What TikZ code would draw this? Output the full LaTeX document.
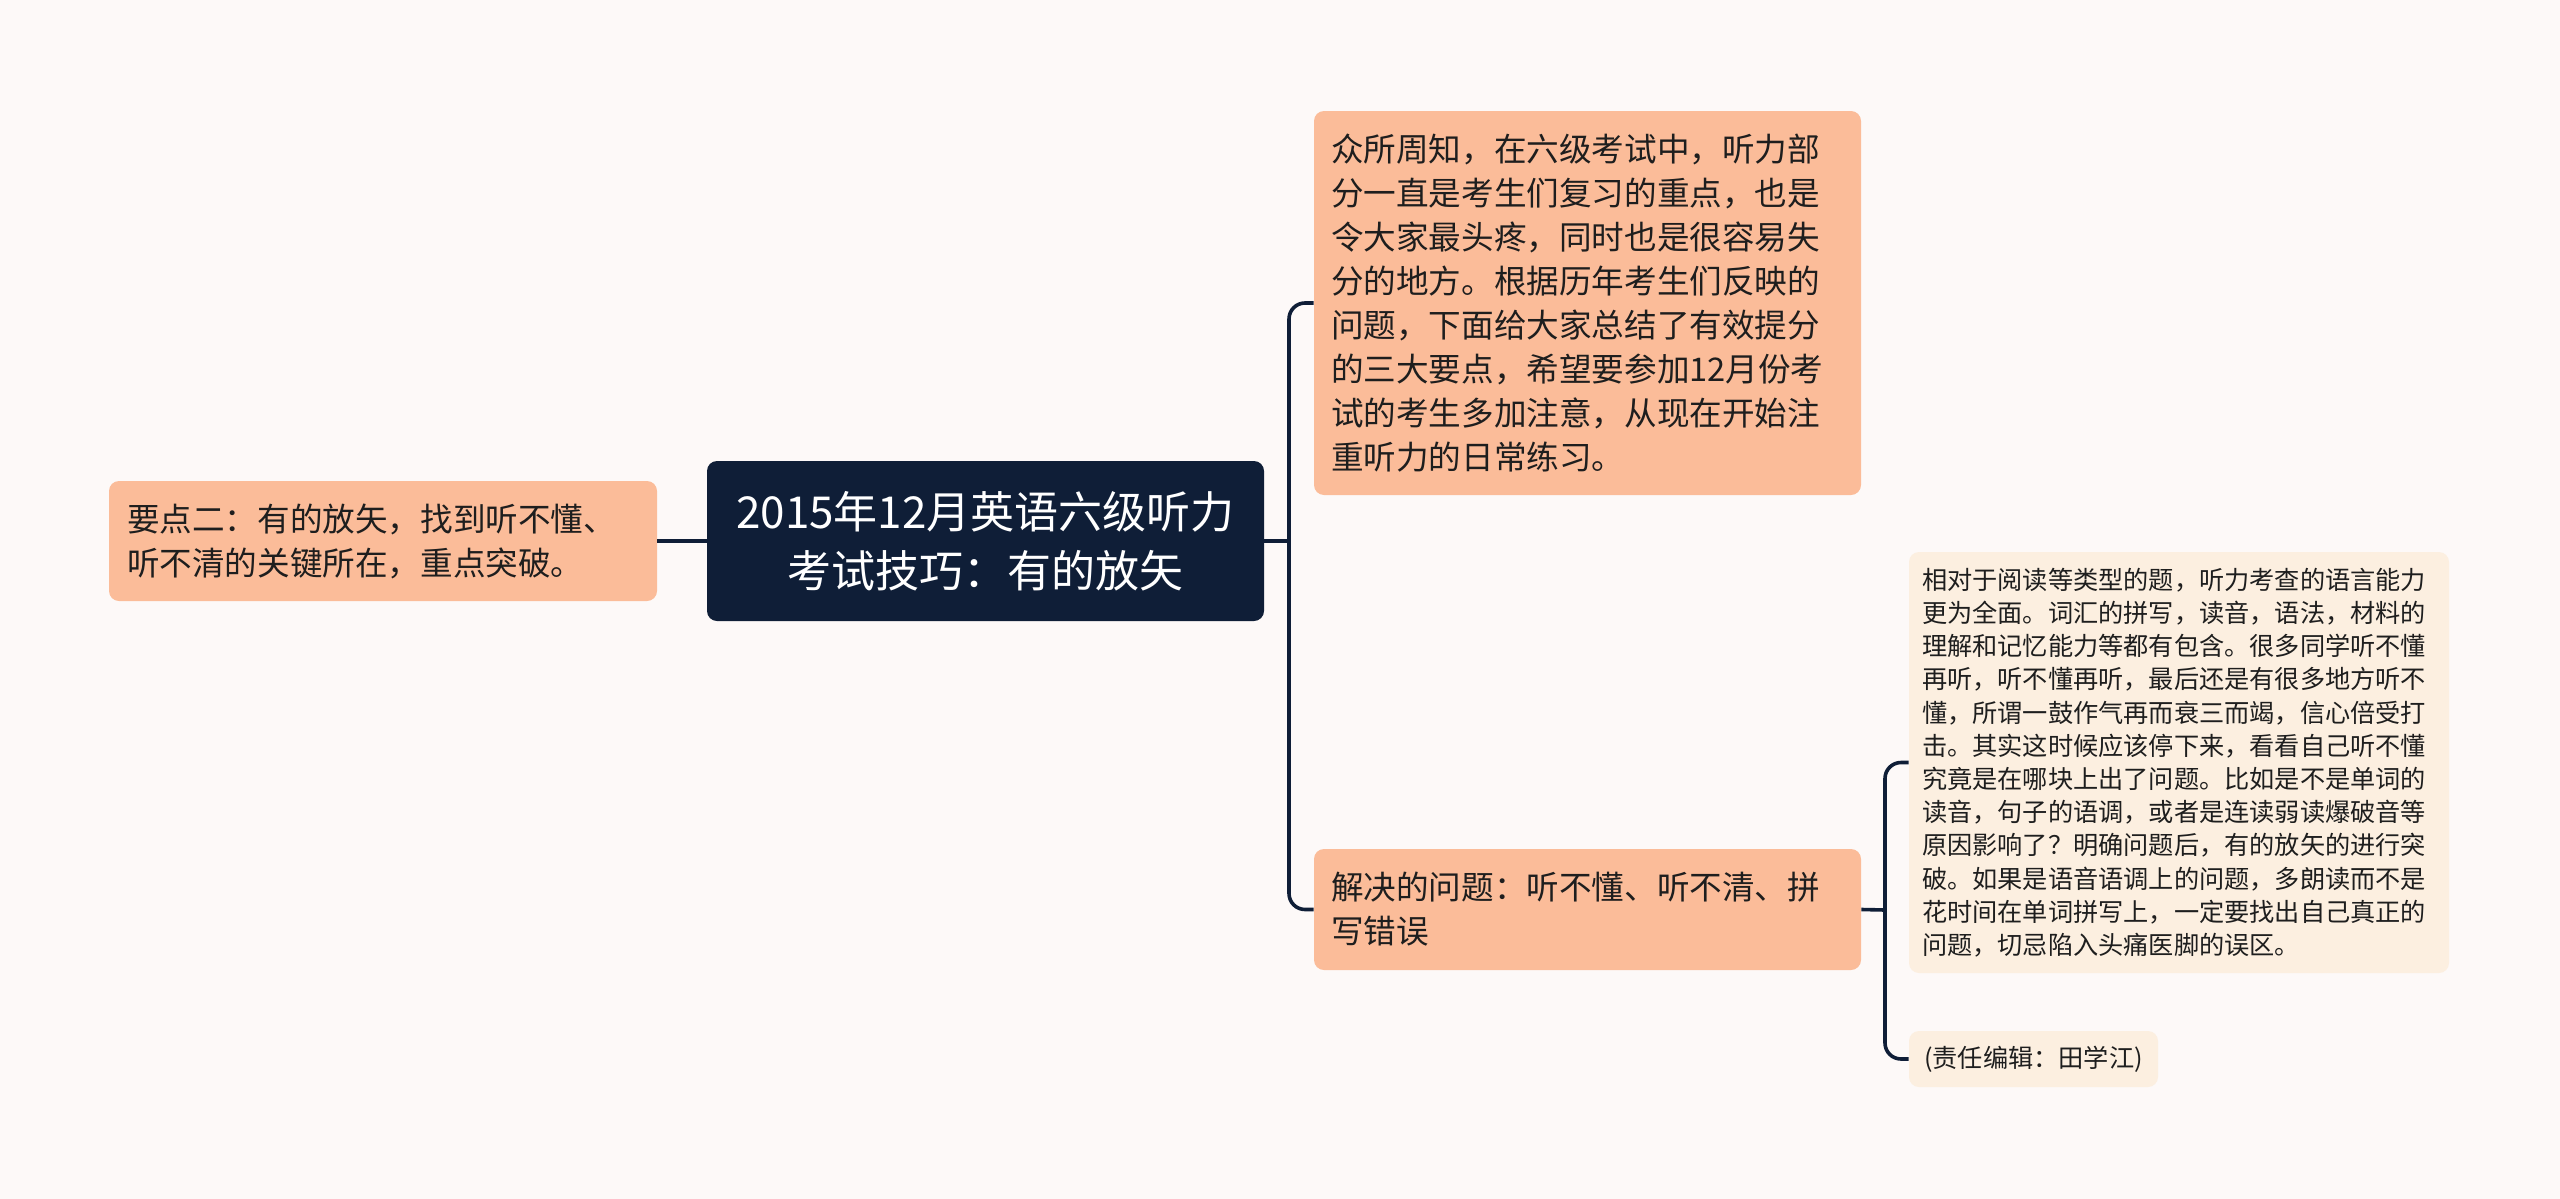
\documentclass[tikz,border=0pt]{standalone}
\usepackage{fontspec}
\setmainfont{Noto Sans CJK SC}
\usepackage{tikz}
\usetikzlibrary{positioning}
\definecolor{bgc}{HTML}{FDF9F8}
\definecolor{navy}{HTML}{0F1E37}
\definecolor{peach}{HTML}{FBBC99}
\definecolor{cream}{HTML}{FCEFE0}
\definecolor{txt}{HTML}{1E1E1E}

\begin{document}
\begin{tikzpicture}[x=1pt,y=1pt,
  box/.style={rounded corners=5pt,text=txt,inner ysep=2pt,anchor=center},
  big/.style={box,fill=peach,inner xsep=8.5pt,text width=256.5pt,align=left,
    font=\fontsize{16.3pt}{22pt}\selectfont},
  small/.style={box,fill=cream,font=\fontsize{12.6pt}{16.6pt}\selectfont},
  link/.style={draw=navy,line width=1.8pt,rounded corners=8pt}]
\fill[bgc] (0,0) rectangle (1280,-599.5);
\useasboundingbox (0,0) rectangle (1280,-599.5);

\node [box,fill=navy,text=white,minimum width=278.5pt,minimum height=80pt,align=center,
  font=\fontsize{22pt}{29.5pt}\selectfont] (root) at (492.75,-270.5)
  {2015年12月英语六级听力\\考试技巧：有的放矢};
\node [big,minimum height=60pt,text width=256pt,inner xsep=9pt] (p2) at (191.5,-270.5)
  {要点二：有的放矢，找到听不懂、\\听不清的关键所在，重点突破。};
\node [big,minimum height=192pt] (intro) at (793.75,-151.5)
  {众所周知，在六级考试中，听力部\\分一直是考生们复习的重点，也是\\令大家最头疼，同时也是很容易失\\分的地方。根据历年考生们反映的\\问题，下面给大家总结了有效提分\\的三大要点，希望要参加12月份考\\试的考生多加注意，从现在开始注\\重听力的日常练习。};
\node [big,minimum height=60.5pt] (solve) at (793.75,-454.75)
  {解决的问题：听不懂、听不清、拼\\写错误};
\node [small,inner xsep=6.5pt,text width=257pt,minimum height=210.5pt,align=left] (detail) at (1089.5,-381.25)
  {相对于阅读等类型的题，听力考查的语言能力\\更为全面。词汇的拼写，读音，语法，材料的\\理解和记忆能力等都有包含。很多同学听不懂\\再听，听不懂再听，最后还是有很多地方听不\\懂，所谓一鼓作气再而衰三而竭，信心倍受打\\击。其实这时候应该停下来，看看自己听不懂\\究竟是在哪块上出了问题。比如是不是单词的\\读音，句子的语调，或者是连读弱读爆破音等\\原因影响了？明确问题后，有的放矢的进行突\\破。如果是语音语调上的问题，多朗读而不是\\花时间在单词拼写上，一定要找出自己真正的\\问题，切忌陷入头痛医脚的误区。};
\node [small,minimum width=124.5pt,minimum height=28pt] (editor) at (1016.75,-529.5)
  {(责任编辑：田学江)};

\coordinate (j1) at (644.5,-270.5);
\coordinate (j2) at (942.5,-455);
\draw [link] (root.west) -- (p2.east);
\draw [link] (root.east) -- (j1);
\draw [link] (intro.west) -| (j1) |- (solve.west);
\draw [link] (solve.east) -- (j2);
\draw [link] (detail.west) -| (j2) |- (editor.west);
\end{tikzpicture}
\end{document}
